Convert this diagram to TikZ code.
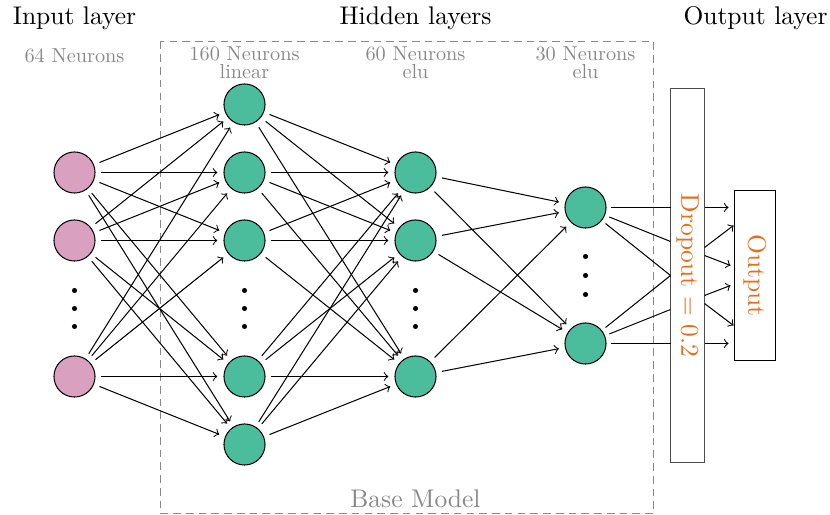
\documentclass[tikz,border=0pt]{standalone}
\usepackage{fontspec}
\newfontfamily\lblfont{lmroman10-regular.otf}
\usetikzlibrary{arrows}
\definecolor{inpink}{RGB}{217,160,192}
\definecolor{neugreen}{RGB}{75,188,156}
\definecolor{outorange}{RGB}{226,110,30}
\definecolor{lblgray}{RGB}{136,136,136}
\tikzset{
  neuron/.style={circle,draw=black,thin,minimum size=16.1pt,inner sep=0pt},
  inneuron/.style={neuron,fill=inpink},
  hidneuron/.style={neuron,fill=neugreen},
  vdot/.style={circle,fill=black,inner sep=0pt,minimum size=2pt},
  conn/.style={->,thin,shorten <=2.3pt,shorten >=2.4pt},
  line/.style={thin,shorten <=1.8pt},
  outarrow/.style={->,thin},
  title/.style={font=\normalsize},
  neurlbl/.style={font={\lblfont\fontsize{7.95pt}{9pt}\selectfont},text=lblgray,align=center,inner sep=0pt},
  basebox/.style={draw=lblgray,dash pattern=on 3pt off 2pt,thin},
  dropbox/.style={draw=black!70,thin,rotate=-90,minimum width=146.6pt,minimum height=13.3pt,inner sep=0pt,text=outorange},
  outbox/.style={draw=black,thin,rotate=-90,minimum width=66.6pt,minimum height=16.1pt,inner sep=0pt,text=outorange},
}
\begin{document}
\begin{tikzpicture}[x=0.392pt,y=-0.392pt]
\useasboundingbox (0,0) rectangle (830,515);
\begin{scope}[shift={(0.5,0.5)}]
% base model box
\draw[basebox] (160,41) rectangle (653,513);
\node[text=lblgray,font=\normalsize] (basel) at (415,498) {Base Model};
% titles
\node[title] (t1) at (74,18) {Input layer};
\node[title] (t2) at (415,18) {Hidden layers};
\node[title] (t3) at (755,18) {Output layer};
\node[neurlbl] (l0) at (74,55) {64 Neurons};
\node[neurlbl] (l1) at (244,62) {160 Neurons\\[-2pt]linear};
\node[neurlbl] (l2) at (415,62) {60 Neurons\\[-2pt]elu};
\node[neurlbl] (l3) at (585,62) {30 Neurons\\[-2pt]elu};
% input layer
\node[inneuron] (i1) at (74,172) {};
\node[inneuron] (i2) at (74,240) {};
\node[inneuron] (i3) at (74,376) {};
\node[vdot] (id1) at (74,290) {};
\node[vdot] (id2) at (74,308) {};
\node[vdot] (id3) at (74,326) {};
% hidden 1
\node[hidneuron] (a1) at (244,104) {};
\node[hidneuron] (a2) at (244,172) {};
\node[hidneuron] (a3) at (244,240) {};
\node[hidneuron] (a4) at (244,376) {};
\node[hidneuron] (a5) at (244,444) {};
\node[vdot] (ad1) at (244,290) {};
\node[vdot] (ad2) at (244,308) {};
\node[vdot] (ad3) at (244,326) {};
% hidden 2
\node[hidneuron] (b1) at (415,172) {};
\node[hidneuron] (b2) at (415,240) {};
\node[hidneuron] (b3) at (415,376) {};
\node[vdot] (bd1) at (415,290) {};
\node[vdot] (bd2) at (415,308) {};
\node[vdot] (bd3) at (415,326) {};
% hidden 3
\node[hidneuron] (c1) at (585,207) {};
\node[hidneuron] (c2) at (585,343) {};
\node[vdot] (cd1) at (585,256) {};
\node[vdot] (cd2) at (585,275) {};
\node[vdot] (cd3) at (585,294) {};
% connections
\foreach \s in {i1,i2,i3}{\foreach \t in {a1,a2,a3,a4,a5}{\draw[conn] (\s) -- (\t);}}
\foreach \s in {a1,a2,a3,a4,a5}{\foreach \t in {b1,b2,b3}{\draw[conn] (\s) -- (\t);}}
\foreach \s in {b1,b2,b3}{\foreach \t in {c1,c2}{\draw[conn] (\s) -- (\t);}}
% dropout
\node[dropbox] (drop) at (687,275) {Dropout = 0.2};
\node[outbox] (out) at (754.5,275) {Output};
\coordinate (dl1) at (670,207);
\coordinate (dl2) at (670,241);
\coordinate (dl3) at (670,275);
\coordinate (dl4) at (670,309);
\coordinate (dl5) at (670,343);
\draw[line] (c1) -- (dl1);
\draw[line] (c1) -- (dl2);
\draw[line] (c1) -- (dl3);
\draw[line] (c2) -- (dl3);
\draw[line] (c2) -- (dl4);
\draw[line] (c2) -- (dl5);
\coordinate (dr1) at (704,207);
\coordinate (dr2) at (704,247);
\coordinate (dr3) at (704,255);
\coordinate (dr4) at (704,295);
\coordinate (dr5) at (704,303);
\coordinate (dr6) at (704,343);
\coordinate (ol1) at (728,207);
\coordinate (ol2) at (733,225);
\coordinate (ol3) at (730,265);
\coordinate (ol4) at (730,285);
\coordinate (ol5) at (733,325);
\coordinate (ol6) at (728,343);
\foreach \k in {1,...,6}{\draw[outarrow] (dr\k) -- (ol\k);}
\end{scope}
\end{tikzpicture}
\end{document}
